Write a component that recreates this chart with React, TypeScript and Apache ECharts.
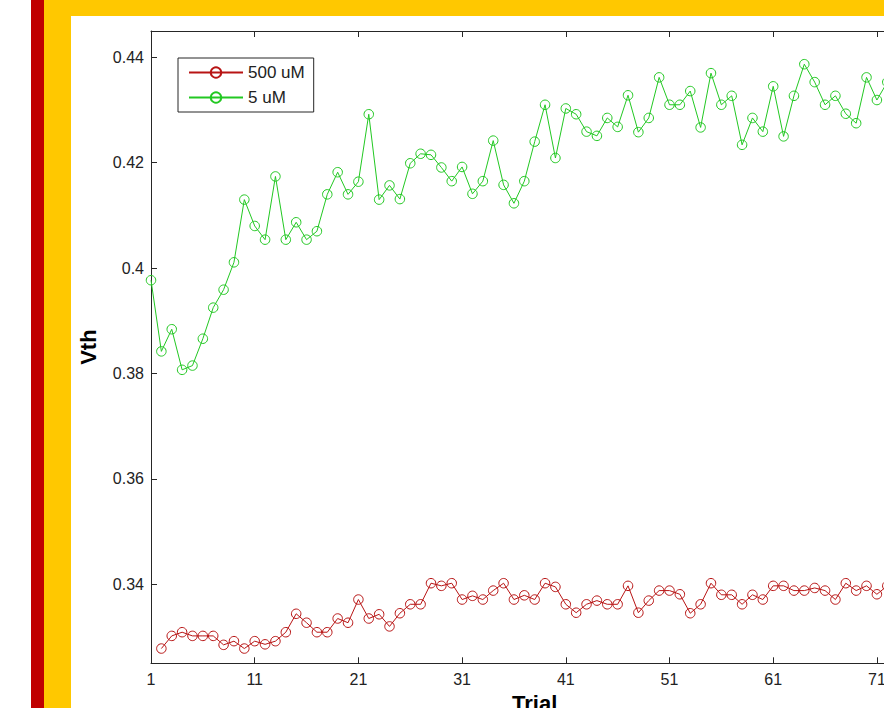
import React, { useEffect, useRef } from "react";
import * as echarts from "echarts";

const trials = Array.from({ length: 72 }, (_, i) => i + 1);

const vth5uM = [
  0.3977, 0.3842, 0.3884, 0.3807, 0.3815, 0.3866, 0.3925, 0.3959, 0.4011, 0.4130,
  0.4080, 0.4054, 0.4174, 0.4054, 0.4087, 0.4054, 0.4070, 0.4140, 0.4182, 0.4140,
  0.4164, 0.4292, 0.4130, 0.4157, 0.4131, 0.4199, 0.4217, 0.4215, 0.4191, 0.4165,
  0.4192, 0.4141, 0.4165, 0.4242, 0.4158, 0.4123, 0.4165, 0.4240, 0.4310, 0.4209,
  0.4303, 0.4292, 0.4259, 0.4251, 0.4285, 0.4268, 0.4328, 0.4258, 0.4285, 0.4362,
  0.4310, 0.4310, 0.4336, 0.4267, 0.4370, 0.4310, 0.4327, 0.4234, 0.4285, 0.4259,
  0.4345, 0.4250, 0.4327, 0.4387, 0.4353, 0.4310, 0.4327, 0.4293, 0.4275, 0.4362,
  0.4319, 0.4353,
];

const vth500uM: (number | null)[] = [
  null, 0.3278, 0.3302, 0.3309, 0.3302, 0.3302, 0.3302, 0.3285, 0.3292, 0.3278,
  0.3292, 0.3286, 0.3292, 0.3309, 0.3344, 0.3327, 0.3309, 0.3309, 0.3335, 0.3327,
  0.3371, 0.3335, 0.3343, 0.3320, 0.3345, 0.3362, 0.3362, 0.3402, 0.3397, 0.3402,
  0.3371, 0.3378, 0.3371, 0.3388, 0.3402, 0.3371, 0.3379, 0.3371, 0.3402, 0.3395,
  0.3362, 0.3346, 0.3362, 0.3369, 0.3362, 0.3362, 0.3397, 0.3346, 0.3369, 0.3388,
  0.3388, 0.3381, 0.3345, 0.3362, 0.3402, 0.3380, 0.3380, 0.3362, 0.3380, 0.3371,
  0.3397, 0.3397, 0.3388, 0.3388, 0.3393, 0.3388, 0.3371, 0.3402, 0.3388, 0.3397,
  0.3381, 0.3397,
];

const xTicks = [1, 11, 21, 31, 41, 51, 61, 71];
const yTicks = [0.34, 0.36, 0.38, 0.4, 0.42, 0.44];
const seriesNames = ["500 uM", "5 uM"];
const xTitle = "Trial";
const yTitle = "Vth";

const FONT = "'Liberation Sans', Arial, Helvetica, sans-serif";
const RED = "#b81414";
const GREEN = "#22c822";
const AXIS = "#262626";

function pairs(vals: (number | null)[]) {
  const out: [number, number][] = [];
  trials.forEach((t, i) => {
    const v = vals[i];
    if (v !== null && v !== undefined) out.push([t, v]);
  });
  return out;
}

export default function App() {
  const ref = useRef<HTMLDivElement>(null);

  useEffect(() => {
    if (!ref.current) return;
    const chart = echarts.init(ref.current, null, { renderer: "svg" });
    const pxPerTrial = 10.37;
    const xMin = 1;
    const xMax = 75;
    const commonAxisLine = { show: true, lineStyle: { color: AXIS, width: 1 } };
    const mkSeries = (name: string, color: string, vals: (number | null)[]) => ({
      name,
      type: "line",
      data: pairs(vals),
      symbol: "circle",
      symbolSize: 9.5,
      showSymbol: true,
      silent: true,
      lineStyle: { color, width: 1 },
      itemStyle: { color: "rgba(0,0,0,0)", borderColor: color, borderWidth: 1 },
      emphasis: { disabled: true },
    });
    chart.setOption({
      animation: false,
      backgroundColor: "transparent",
      textStyle: { fontFamily: FONT },
      grid: {
        left: 151,
        top: 31,
        width: (xMax - xMin) * pxPerTrial,
        height: 632.3,
        containLabel: false,
        outerBoundsMode: "none",
      },
      legend: {
        data: seriesNames,
        orient: "vertical",
        left: 178,
        top: 58,
        padding: [6, 9, 6, 10],
        itemWidth: 54,
        itemHeight: 13,
        itemGap: 8,
        borderColor: AXIS,
        borderWidth: 1,
        backgroundColor: "#fff",
        textStyle: { fontSize: 17, color: "#222", fontFamily: FONT },
      },
      xAxis: [
        {
          type: "value",
          position: "bottom",
          min: xMin,
          max: xMax,
          axisLine: commonAxisLine,
          axisTick: { show: true, inside: true, length: 6, customValues: xTicks, lineStyle: { color: AXIS } },
          axisLabel: { customValues: xTicks, margin: 8, fontSize: 16, color: "#222", fontFamily: FONT },
          splitLine: { show: false },
          name: xTitle,
          nameLocation: "middle",
          nameGap: 26,
          nameTextStyle: { fontSize: 22, fontWeight: "bold", color: "#000", fontFamily: FONT },
        },
        {
          type: "value",
          position: "top",
          min: xMin,
          max: xMax,
          axisLine: commonAxisLine,
          axisTick: { show: true, inside: true, length: 6, customValues: xTicks, lineStyle: { color: AXIS } },
          axisLabel: { show: false },
          splitLine: { show: false },
        },
      ],
      yAxis: [
        {
          type: "value",
          position: "left",
          min: 0.325,
          max: 0.445,
          axisLine: commonAxisLine,
          axisTick: { show: true, inside: true, length: 6, customValues: yTicks, lineStyle: { color: AXIS } },
          axisLabel: {
            customValues: yTicks,
            margin: 7,
            fontSize: 16,
            color: "#222",
            fontFamily: FONT,
            formatter: (v: number) => String(Math.round(v * 100) / 100),
          },
          splitLine: { show: false },
          name: yTitle,
          nameLocation: "middle",
          nameGap: 52,
          nameRotate: 90,
          nameTextStyle: { fontSize: 22, fontWeight: "bold", color: "#000", fontFamily: FONT },
        },
        {
          type: "value",
          position: "right",
          min: 0.325,
          max: 0.445,
          axisLine: commonAxisLine,
          axisTick: { show: true, inside: true, length: 6, customValues: yTicks, lineStyle: { color: AXIS } },
          axisLabel: { show: false },
          splitLine: { show: false },
        },
      ],
      series: [mkSeries(seriesNames[0], RED, vth500uM), mkSeries(seriesNames[1], GREEN, vth5uM)],
    });
    return () => chart.dispose();
  }, []);

  return (
    <div
      style={{
        position: "fixed",
        left: 0,
        top: 0,
        width: 884,
        height: 708,
        overflow: "hidden",
        background: "#fff",
      }}
    >
      <div style={{ position: "absolute", left: 31, top: 0, width: 13, height: 708, background: "#c00000" }} />
      <div style={{ position: "absolute", left: 44, top: 0, width: 900, height: 708, background: "#ffc800" }} />
      <div style={{ position: "absolute", left: 71, top: 16, width: 900, height: 708, background: "#ffffff" }} />
      <div ref={ref} style={{ position: "absolute", left: 0, top: 0, width: 1000, height: 708 }} />
    </div>
  );
}
